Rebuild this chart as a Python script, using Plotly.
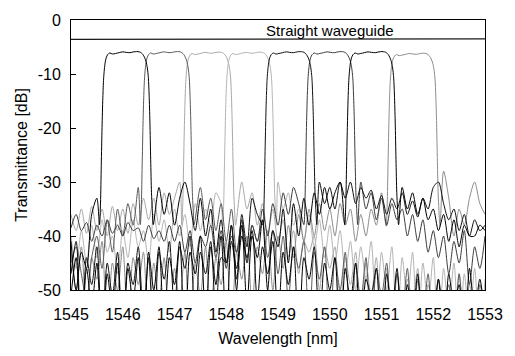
import plotly.graph_objects as go

# ---------------- data ----------------
N = None
grid_start = 1545.0      # nm, sidelobe samples every 0.1 nm
grid_step = 0.1

# out-of-band (crosstalk) levels in dB on the 0.1 nm grid, None = inside passband
ch1_db = [-41, -50, -43, -46, -36, -33, N, N, N, N,
          N, N, N, N, N, N, N, -31, -36, -32,
          -38, -33, -30, -34, -39, -33, -40, -35, -43, -37,
          -45, -38, -48, -40, -44, -39, -52, -42, -47, -41,
          -56, -43, -49, -42, -60, -44, -48, -42, -57, -45,
          -50, -44, -60, -46, -52, -45, -60, -48, -51, -46,
          -60, -47, -54, -46, -60, -49, -55, -47, -60, -50,
          -55, -48, -60, -47, -53, -49, -60, -46, -54, -48,
          -56]
ch2_db = [-45, -42, -47, -52, -44, -40, -46, -37, -43, -35,
          -40, -34, -38, -31, N, N, N, N, N, N,
          N, N, N, N, N, -31, -37, -33, -39, -34,
          -41, -35, -43, -37, -45, -38, -41, -37, -44, -39,
          -47, -40, -52, -42, -46, -41, -58, -43, -48, -42,
          -60, -44, -50, -43, -60, -45, -52, -44, -60, -46,
          -51, -45, -60, -47, -54, -46, -60, -48, -55, -47,
          -60, -48, -53, -49, -60, -47, -56, -50, -60, -49,
          -54]
ch3_db = [-36, -39, -35, -39.5, -34.5, -39, -35, -40, -34.5, -39,
          -35, -39.5, -34, -38, -33, -37, -33, -38, -32, -36,
          -33, -30, N, N, N, N, N, N, N, N,
          N, N, N, -30, -35, -32, -38, -34, -40, -35,
          -41, -37, -44, -39, -47, -41, -43, -40, -50, -42,
          -46, -42, -55, -44, -49, -43, -58, -45, -51, -44,
          -60, -46, -53, -47, -60, -48, -52, -46, -60, -49,
          -53, -48, -60, -50, -55, -47, -60, -49, -54, -51,
          -58]
ch4_db = [-40, -46, -39, -45, -38, -44, -37, -43, -40, -47,
          -39, -44, -37, -42, -39, -45, -36, -41, -37, -43,
          -35, -40, -36, -42, -34, -39, -35, -38, -32, -34,
          N, N, N, N, N, N, N, N, N, N,
          -30, -35, -32, -38, -35, -41, -36, -42, -37, -44,
          -38, -45, -39, -47, -41, -50, -42, -48, -41, -55,
          -43, -50, -42, -58, -44, -52, -43, -60, -45, -53,
          -44, -60, -46, -54, -45, -60, -47, -56, -46, -60,
          -48]
ch5_db = [-47, -41, -60, -44, -49, -42, -58, -45, -51, -43,
          -60, -45, -49, -42, -55, -44, -60, -43, -48, -41,
          -54, -42, -46, -40, -58, -43, -47, -41, -55, -44,
          -45, -38, -50, -36, -42, -33, -36, N, N, N,
          N, N, N, N, N, N, N, N, -30, -34,
          -31, -35, -30, -33, -30, -34, -31, -33, -31.5, -35,
          -32.5, -36, -33, -35, -32, -36, -33.5, -36.5, -33, -35,
          -31, -30, -34, -37, -35, -39, -36, -40, -37, -39,
          -38]
ch6_db = [-38.5, -36, -39, -37.5, -41, -38, -40, -37, -39.5, -38,
          -40, -37.5, -39, -38.5, -41, -38, -40.5, -39, -41, -38,
          -41, -38, -43, -39, -45, -40, -42, -38, -44, -39,
          -46, -40, -43, -37, -45, -38, -41, -35, -40, -34,
          -38, -32, -36, -31, -34, N, N, N, N, N,
          N, N, N, N, N, N, -30, -35, -32, -37,
          -33, -38, -34, -37, -35, -40, -36, -41, -37, -43,
          -39, -44, -40, -47, -41, -45, -39, -49, -42, -46,
          -40]
ch7_db = [-51, -44, -60, -46, -53, -45, -60, -47, -54, -45,
          -60, -46, -52, -44, -60, -43, -50, -42, -57, -44,
          -49, -41, -60, -43, -47, -40, -55, -42, -49, -40,
          -58, -41, -46, -38, -53, -40, -44, -37, -50, -39,
          -42, -35, -45, -34, -40, -33, -38, -32, -36, -31,
          -35, -32, -30, N, N, N, N, N, N, N,
          N, N, N, N, -31, -35, -32, -36, -33, -37,
          -35, -39, -36, -41, -37, -42, -38, -40, -40, -38,
          -39]
ch8_db = [-43, -50, -42, -55, -44, -48, -41, -60, -45, -50,
          -42, -57, -44, -49, -43, -60, -45, -52, -44, -58,
          -46, -52, -43, -60, -45, -51, -42, -55, -44, -49,
          -41, -58, -43, -48, -40, -53, -42, -47, -39, -50,
          -40, -46, -38, -44, -36, -41, -35, -40, -34, -39,
          -35, -40, -34, -38, -35, -41, -36, -40, -35, -38,
          -32, N, N, N, N, N, N, N, N, N,
          N, N, -28, -33, -40, -35, -38, -33, -30, -34,
          -36]

channel_db = [ch1_db, ch2_db, ch3_db, ch4_db, ch5_db, ch6_db, ch7_db, ch8_db]
channel_center = [1546.07, 1546.86, 1547.66, 1548.45, 1549.23, 1550.02, 1550.81, 1551.61]
channel_peak = [-5.9, -5.9, -6.0, -6.0, -5.9, -5.9, -5.9, -6.2]
channel_color = ['#000000', '#5a5a5a', '#a8a8a8', '#b4b4b4',
                 '#111111', '#3c3c3c', '#000000', '#8c8c8c']

# flat-top passband profile: offset from centre (nm) and level relative to peak (dB)
pass_offset = [-0.52, -0.50, -0.485, -0.47, -0.455, -0.44, -0.425, -0.41, -0.39, -0.36, -0.32,
               -0.27, -0.21, -0.14, -0.07, 0.0, 0.07, 0.14, 0.20, 0.25, 0.29,
               0.32, 0.35, 0.38, 0.405, 0.425, 0.44, 0.455, 0.47, 0.485, 0.50, 0.52]
pass_rel = [-32, -28, -21, -14, -8.5, -5, -3.2, -2.0, -1.1, -0.5, -0.2,
            -0.4, -0.3, -0.15, 0.0, -0.1, -0.15, 0.0, 0.05, 0.0, -0.2,
            -0.5, -1.0, -1.8, -3.0, -4.8, -8.0, -13, -20, -26, -29, -32]

straight_wl = [1545.0, 1547.0, 1549.0, 1551.0, 1553.0]
straight_db = [-3.6, -3.55, -3.5, -3.45, -3.5]

x_ticks = [1545, 1546, 1547, 1548, 1549, 1550, 1551, 1552, 1553]
y_ticks = [0, -10, -20, -30, -40, -50]

# ---------------- figure ----------------
FONT = 'Arial, "Liberation Sans", sans-serif'
grid_wl = [round(grid_start + grid_step * i, 3) for i in range(len(ch1_db))]

fig = go.Figure()
draw_order = [2, 3, 7, 1, 5, 0, 4, 6]
for k in draw_order:
    c = channel_center[k]
    pts = [(w, v) for w, v in zip(grid_wl, channel_db[k]) if v is not None]
    pts += [(round(c + o, 4), channel_peak[k] + r) for o, r in zip(pass_offset, pass_rel)]
    pts.sort()
    fig.add_trace(go.Scatter(
        x=[p[0] for p in pts], y=[p[1] for p in pts], mode='lines',
        line=dict(color=channel_color[k], width=1, shape='spline', smoothing=0.8),
        hoverinfo='skip', showlegend=False))

fig.add_trace(go.Scatter(x=straight_wl, y=straight_db, mode='lines',
                         line=dict(color='#1a1a1a', width=1.2),
                         hoverinfo='skip', showlegend=False))

fig.add_annotation(x=1550.0, y=-2.0, text='Straight waveguide', showarrow=False,
                   font=dict(family=FONT, size=15, color='#000000'))

fig.update_layout(
    width=515, height=356,
    margin=dict(l=71, r=20, t=16, b=60),
    paper_bgcolor='white', plot_bgcolor='white',
    font=dict(family=FONT, size=16, color='#000000'),
    showlegend=False,
)
fig.update_xaxes(range=[1545, 1553], tickvals=x_ticks, ticktext=[str(t) for t in x_ticks],
                 showgrid=False, zeroline=False, showline=True, mirror=True,
                 linecolor='#000000', linewidth=1, ticks='', ticklabelstandoff=10,
                 tickfont=dict(size=16),
                 title=dict(text='Wavelength [nm]', font=dict(size=16), standoff=10))
fig.update_yaxes(range=[-50, 0], tickvals=y_ticks, ticktext=[str(t) for t in y_ticks],
                 showgrid=False, zeroline=False, showline=True, mirror=True,
                 linecolor='#000000', linewidth=1, ticks='inside', ticklen=5,
                 tickcolor='#000000', ticklabelstandoff=6,
                 tickfont=dict(size=16),
                 title=dict(text='Transmittance [dB]', font=dict(size=16), standoff=6))

fig.write_html('out.html')
